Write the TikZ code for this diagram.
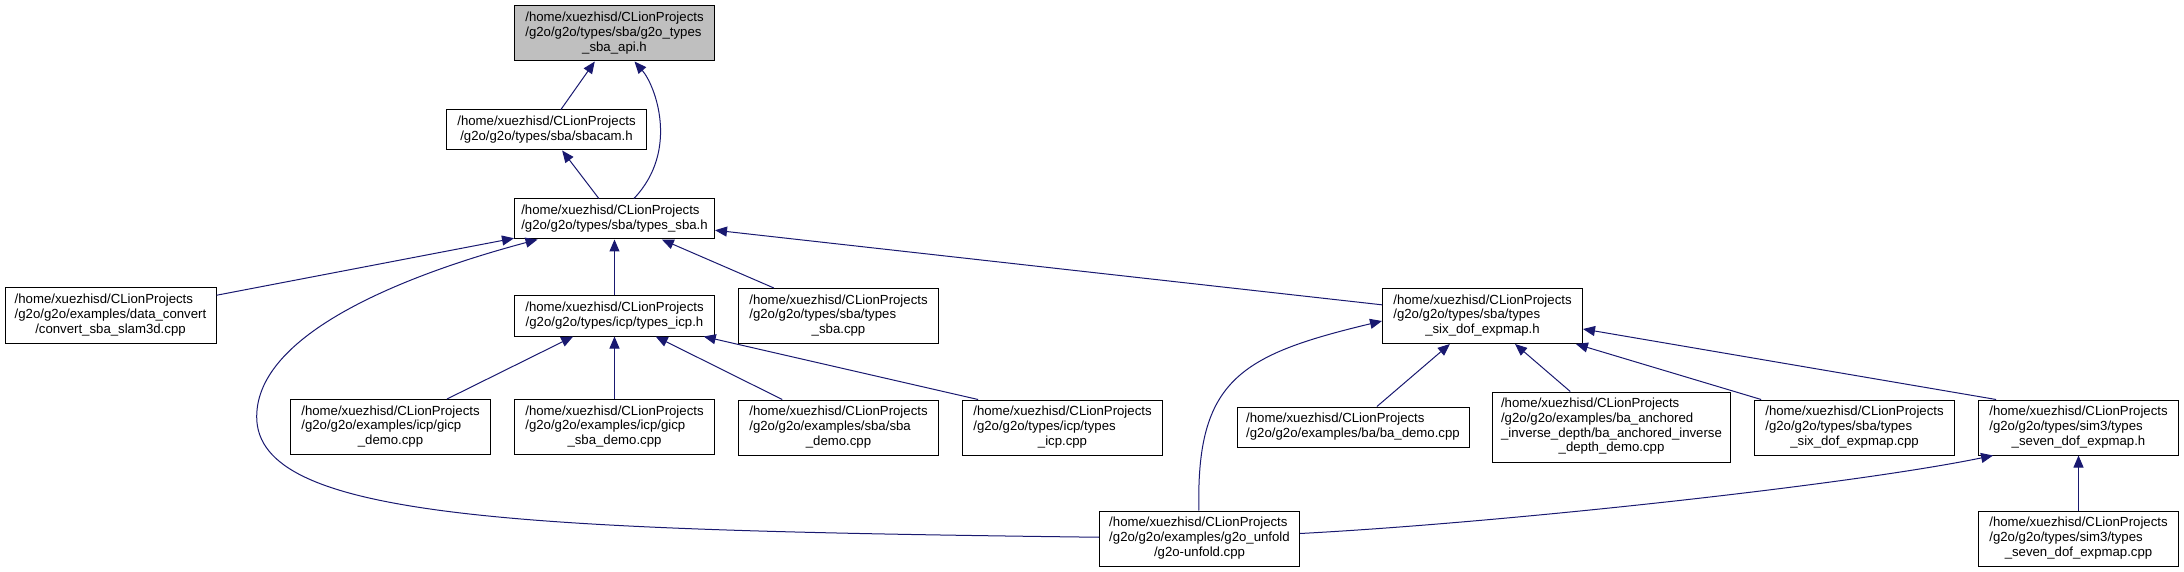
\documentclass[tikz,border=0pt]{standalone}
\usepackage{fontspec}
\setmainfont{Liberation Sans}
\usetikzlibrary{calc,arrows.meta}

\definecolor{depblue}{HTML}{191970}
\newcommand{\flines}[1]{\begin{tabular}{@{}l@{}}#1\end{tabular}}
\newcommand{\lastline}[1]{\multicolumn{1}{@{}c@{}}{#1}}
\newcommand{\clionhome}{/home/xuezhisd/CLionProjects}

\begin{document}
\begin{tikzpicture}[x=0.5pt, y=-0.5pt, >={Triangle[length=6pt,width=5pt]},
        file/.style={draw=black, line width=0.5pt, fill=white, inner sep=0pt,
            minimum width=100pt, minimum height=27.5pt,
            font=\fontsize{6.6pt}{7.35pt}\selectfont},
        two/.style={minimum height=20pt},
        dep/.style={->, depblue, line width=0.5pt}]

        % Canvas
        \useasboundingbox (0,0) rectangle (2184,572);

        % Headers
        \node[file, fill=black!25] (api) at (614.5,33.5)
            {\flines{\clionhome\\/g2o/g2o/types/sba/g2o\_types\\\lastline{\_sba\_api.h}}};
        \node[file, two] (sbacam) at (546.5,130)
            {\flines{\clionhome\\\lastline{/g2o/g2o/types/sba/sbacam.h}}};
        \node[file, two] (tsba) at (614.5,219)
            {\flines{\clionhome\\\lastline{/g2o/g2o/types/sba/types\_sba.h}}};
        \node[file, two] (ticp) at (614.5,316)
            {\flines{\clionhome\\\lastline{/g2o/g2o/types/icp/types\_icp.h}}};
        \node[file] (sixh) at (1482.5,316)
            {\flines{\clionhome\\/g2o/g2o/types/sba/types\\\lastline{\_six\_dof\_expmap.h}}};
        \node[file] (sevenh) at (2078.5,427.5)
            {\flines{\clionhome\\/g2o/g2o/types/sim3/types\\\lastline{\_seven\_dof\_expmap.h}}};

        % Sources
        \node[file, minimum width=105.5pt] (dconv) at (110.5,315.5)
            {\flines{\clionhome\\/g2o/g2o/examples/data\_convert\\\lastline{/convert\_sba\_slam3d.cpp}}};
        \node[file] (tsbacpp) at (838.5,316)
            {\flines{\clionhome\\/g2o/g2o/types/sba/types\\\lastline{\_sba.cpp}}};
        \node[file] (gicp) at (390.5,427)
            {\flines{\clionhome\\/g2o/g2o/examples/icp/gicp\\\lastline{\_demo.cpp}}};
        \node[file] (gicpsba) at (614.5,427)
            {\flines{\clionhome\\/g2o/g2o/examples/icp/gicp\\\lastline{\_sba\_demo.cpp}}};
        \node[file] (sbademo) at (838.5,427.5)
            {\flines{\clionhome\\/g2o/g2o/examples/sba/sba\\\lastline{\_demo.cpp}}};
        \node[file] (icpcpp) at (1062.5,427.5)
            {\flines{\clionhome\\/g2o/g2o/types/icp/types\\\lastline{\_icp.cpp}}};
        \node[file, two, minimum width=116pt] (bademo) at (1353,427)
            {\flines{\clionhome\\\lastline{/g2o/g2o/examples/ba/ba\_demo.cpp}}};
        \node[file, minimum width=119pt, minimum height=35pt] (anch) at (1611.5,427)
            {\flines{\clionhome\\/g2o/g2o/examples/ba\_anchored\\\_inverse\_depth/ba\_anchored\_inverse\\\lastline{\_depth\_demo.cpp}}};
        \node[file] (sixcpp) at (1854.5,427.5)
            {\flines{\clionhome\\/g2o/g2o/types/sba/types\\\lastline{\_six\_dof\_expmap.cpp}}};
        \node[file] (unfold) at (1199.5,538.5)
            {\flines{\clionhome\\/g2o/g2o/examples/g2o\_unfold\\\lastline{/g2o-unfold.cpp}}};
        \node[file] (sevencpp) at (2078.5,538.5)
            {\flines{\clionhome\\/g2o/g2o/types/sim3/types\\\lastline{\_seven\_dof\_expmap.cpp}}};

        % Edges to g2o_types_sba_api.h
        \draw[dep] (sbacam) -- (api);
        \draw[dep] (tsba) .. controls (680,150) and (655,85) .. ($(api.south)+(20,0)$);

        % Edges to sbacam.h and types_sba.h
        \draw[dep] (tsba) -- (sbacam);
        \draw[dep] (dconv) -- (tsba);
        \draw[dep] (ticp) -- (tsba);
        \draw[dep] (tsbacpp) -- (tsba);
        \draw[dep] (sixh) -- (tsba);
        \draw[dep] (unfold) .. controls (520,530) and (256.7,520) .. (256.7,416.7)
            .. controls (256.7,330) and (417,271.6) .. (tsba);

        % Edges to types_icp.h
        \draw[dep] (gicp) -- (ticp);
        \draw[dep] (gicpsba) -- (ticp);
        \draw[dep] (sbademo) -- (ticp);
        \draw[dep] ($(icpcpp.north west)!0.08!(icpcpp.north east)$) -- (ticp);

        % Edges to types_six_dof_expmap.h
        \draw[dep] (bademo) -- (sixh);
        \draw[dep] (anch) -- (sixh);
        \draw[dep] (sixcpp) -- (sixh);
        \draw[dep] ($(sevenh.north west)!0.09!(sevenh.north east)$) -- ($(sixh.east)+(0,13)$);
        \draw[dep] (unfold) .. controls (1196,380) and (1240,355) .. ($(sixh.west)+(0,5)$);

        % Edges to types_seven_dof_expmap.h
        \draw[dep] ($(unfold.east)+(0,-5)$) .. controls (1500,523) and (1850,485)
            .. ($(sevenh.south west)!0.075!(sevenh.south east)$);
        \draw[dep] (sevencpp) -- (sevenh);
    \end{tikzpicture}
\end{document}
